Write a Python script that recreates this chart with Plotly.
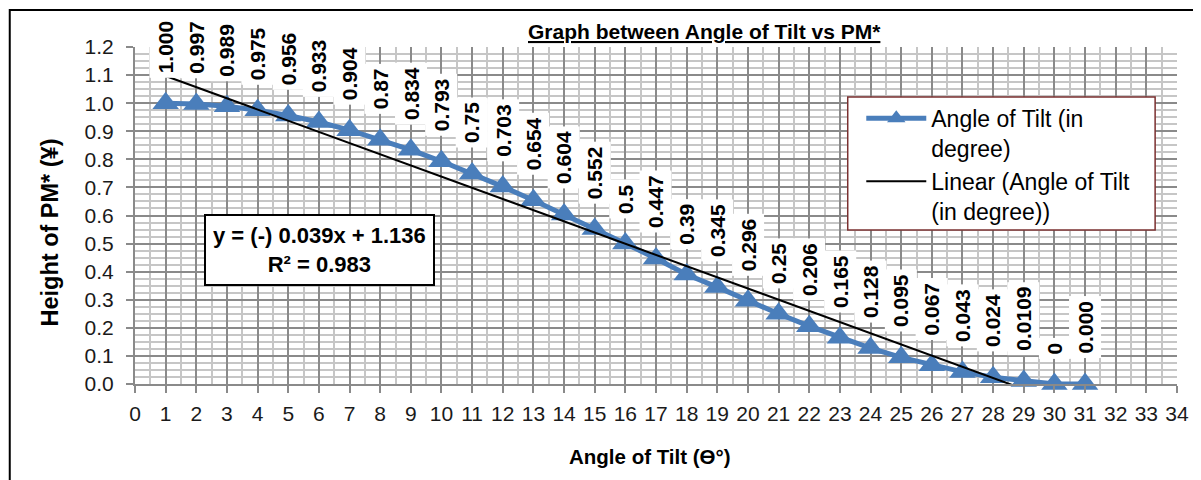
import numpy as np
import plotly.graph_objects as go

# ---- data ----
angles = list(range(1, 32))
heights = [1.000, 0.997, 0.989, 0.975, 0.956, 0.933, 0.904, 0.87, 0.834, 0.793,
           0.75, 0.703, 0.654, 0.604, 0.552, 0.5, 0.447, 0.39, 0.345, 0.296,
           0.25, 0.206, 0.165, 0.128, 0.095, 0.067, 0.043, 0.024, 0.0109, 0, 0.000]
labels = ["1.000", "0.997", "0.989", "0.975", "0.956", "0.933", "0.904", "0.87", "0.834", "0.793",
          "0.75", "0.703", "0.654", "0.604", "0.552", "0.5", "0.447", "0.39", "0.345", "0.296",
          "0.25", "0.206", "0.165", "0.128", "0.095", "0.067", "0.043", "0.024", "0.0109", "0", "0.000"]
equation_text = "y = (-) 0.039x + 1.136"
r_squared_text = "R² = 0.983"

title_text = "Graph between Angle of Tilt vs PM*"
x_title = "Angle of Tilt (ϴ°)"
y_title = "Height of PM* (¥)"
series_name = "Angle of Tilt (in<br>degree)"
trend_name = "Linear (Angle of Tilt<br>(in degree))"

BLUE = "#4A7EBB"
MAJOR = "#8a8a8a"
MINOR = "#c6c6c6"
FONT = "Liberation Sans, Arial, sans-serif"

# linear trendline fitted to the series (as the spreadsheet does)
slope, intercept = np.polyfit(angles, heights, 1)
trend_y = [slope * a + intercept for a in angles]

fig = go.Figure()
fig.add_trace(go.Scatter(
    x=angles, y=heights, mode="lines+markers", name=series_name,
    line=dict(color=BLUE, width=5),
    marker=dict(symbol="triangle-up", size=23, color=BLUE),
    cliponaxis=False,
))
fig.add_trace(go.Scatter(
    x=angles, y=trend_y, mode="lines", name=trend_name,
    line=dict(color="black", width=2),
))

# data labels
for a, h, t in zip(angles, heights, labels):
    fig.add_annotation(
        x=a, y=h, text="<b>" + t + "</b>", textangle=-90, showarrow=False,
        xanchor="center", yanchor="bottom", yshift=25,
        bgcolor="white", borderpad=4,
        font=dict(family=FONT, size=21, color="black"),
    )

# equation box
fig.add_annotation(
    xref="paper", yref="paper", x=0.1775, y=0.398,
    text="<b>" + equation_text + "<br>" + r_squared_text + "</b>",
    showarrow=False, align="center", xanchor="center", yanchor="middle",
    bgcolor="white", bordercolor="black", borderwidth=2, borderpad=7,
    font=dict(family=FONT, size=22, color="black"),
)

# title
fig.add_annotation(
    xref="paper", yref="paper", x=0.547, y=1.045,
    text="<b><u>" + title_text + "</u></b>", showarrow=False,
    xanchor="center", yanchor="middle",
    font=dict(family=FONT, size=21, color="black"),
)
# axis titles
fig.add_annotation(
    xref="paper", yref="paper", x=0.494, y=-0.2166,
    text="<b>" + x_title + "</b>", showarrow=False,
    xanchor="center", yanchor="middle",
    font=dict(family=FONT, size=20.5, color="black"),
)
fig.add_annotation(
    xref="paper", yref="paper", x=-0.0811, y=0.451,
    text="<b>" + y_title + "</b>", showarrow=False, textangle=-90,
    xanchor="center", yanchor="middle",
    font=dict(family=FONT, size=23.5, color="black"),
)

# legend box
fig.add_shape(type="rect", xref="paper", yref="paper",
              x0=0.684, x1=0.979, y0=0.457, y1=0.852,
              fillcolor="white", line=dict(color="#7b3030", width=1.5), layer="above")

# outer chart border
fig.add_shape(type="rect", xref="paper", yref="paper",
              x0=-0.1202, x1=1.2, y0=-0.6, y1=1.1098,
              line=dict(color="black", width=2), layer="above")

fig.update_layout(
    width=1193, height=472,
    margin=dict(l=127, r=18, t=39, b=96),
    paper_bgcolor="white", plot_bgcolor="white",
    showlegend=True,
    legend=dict(
        x=0.697, y=0.852, xanchor="left", yanchor="top",
        bgcolor="rgba(0,0,0,0)", borderwidth=0,
        font=dict(family=FONT, size=23, color="black"),
        valign="top", itemwidth=60, tracegroupgap=0,
    ),
    font=dict(family=FONT, color="black"),
)
fig.update_xaxes(
    range=[0, 34], tick0=0, dtick=1,
    showgrid=True, gridcolor=MAJOR, gridwidth=2,
    minor=dict(dtick=0.5, showgrid=True, gridcolor=MINOR, gridwidth=1.5),
    ticks="outside", ticklen=7, tickcolor=MAJOR, tickwidth=1.5,
    showline=True, linecolor=MAJOR, linewidth=2, zeroline=False,
    tickfont=dict(family=FONT, size=21, color="#1a1a1a"),
    ticklabelstandoff=3,
)
fig.update_yaxes(
    range=[0, 1.2], tick0=0, dtick=0.1, tickformat=".1f",
    showgrid=True, gridcolor=MAJOR, gridwidth=2,
    minor=dict(dtick=0.025, showgrid=True, gridcolor=MINOR, gridwidth=1.5),
    ticks="outside", ticklen=7, tickcolor=MAJOR, tickwidth=1.5,
    showline=True, linecolor=MAJOR, linewidth=2, zeroline=False,
    tickfont=dict(family=FONT, size=21, color="#1a1a1a"),
    ticklabelstandoff=8,
)

fig.write_html("out.html")
